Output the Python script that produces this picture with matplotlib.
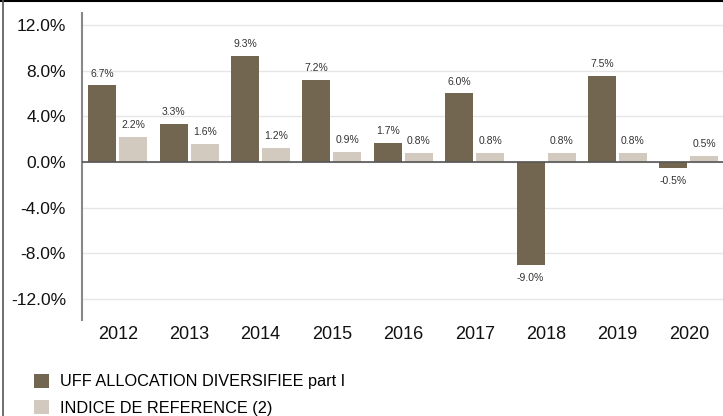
import matplotlib
matplotlib.use("Agg")
import matplotlib.pyplot as plt
import numpy as np
from matplotlib.lines import Line2D
from matplotlib.patches import Patch
from matplotlib.ticker import FuncFormatter, FixedLocator

plt.rcParams['font.family'] = ['Liberation Sans', 'DejaVu Sans']

years = ['2012', '2013', '2014', '2015', '2016', '2017', '2018', '2019', '2020']
fund = [6.7, 3.3, 9.3, 7.2, 1.7, 6.0, -9.0, 7.5, -0.5]
index = [2.2, 1.6, 1.2, 0.9, 0.8, 0.8, 0.8, 0.8, 0.5]
fund_name = 'UFF ALLOCATION DIVERSIFIEE part I'
index_name = 'INDICE DE REFERENCE (2)'
yticks = [-12, -8, -4, 0, 4, 8, 12]

c_fund = '#736651'
c_index = '#d2c9bf'

W, H = 723, 416
fig = plt.figure(figsize=(W / 100, H / 100), dpi=100)
ax_left, ax_right, ax_top, ax_bot = 82, 724.6, 13, 320
ax = fig.add_axes([ax_left / W, 1 - ax_bot / H, (ax_right - ax_left) / W, (ax_bot - ax_top) / H])

x = np.arange(len(years))
bw = 0.39
off = 0.217
b1 = ax.bar(x - off, fund, bw, color=c_fund, zorder=3)
b2 = ax.bar(x + off, index, bw, color=c_index, zorder=3)

for bars, vals in ((b1, fund), (b2, index)):
    for rect, v in zip(bars, vals):
        cx = rect.get_x() + rect.get_width() / 2
        if v >= 0:
            ax.annotate(f'{v:.1f}%', (cx, v), xytext=(0, 5), textcoords='offset points',
                        ha='center', va='bottom', fontsize=7.5, color='#333333')
        else:
            ax.annotate(f'{v:.1f}%', (cx, v), xytext=(0, -6), textcoords='offset points',
                        ha='center', va='top', fontsize=7.5, color='#333333')

ax.set_xlim(-0.5, len(years) - 0.5)
ax.set_ylim(-13.84, 13.05)
ax.yaxis.set_major_locator(FixedLocator(yticks))
ax.yaxis.set_major_formatter(FuncFormatter(lambda v, p: f'{v:.1f}%'))
ax.set_xticks(x)
ax.set_xticklabels(years)
ax.tick_params(axis='both', length=0, labelsize=12.5, colors='#111111')
ax.tick_params(axis='y', pad=11.5)
ax.tick_params(axis='x', pad=4.5, labelsize=13)

ax.grid(axis='y', color='#e6e6e6', lw=1, zorder=0)
ax.axhline(0, color='#555555', lw=1.2, zorder=4)
for s in ('top', 'right', 'bottom'):
    ax.spines[s].set_visible(False)
ax.spines['left'].set_color('#888888')
ax.spines['left'].set_linewidth(1.5)

# outer border lines (top and left)
fig.add_artist(Line2D([0, 1], [1 - 0.5 / H, 1 - 0.5 / H], transform=fig.transFigure, color='black', lw=1.5))
fig.add_artist(Line2D([2.5 / W, 2.5 / W], [0, 1], transform=fig.transFigure, color='#555555', lw=1.2))

handles = [Patch(facecolor=c_fund, edgecolor='none'), Patch(facecolor=c_index, edgecolor='none')]
fig.legend(handles, [fund_name, index_name], loc='upper left',
           bbox_to_anchor=(34 / W, 1 - 374 / H), frameon=False, fontsize=11.7,
           handlelength=0.92, handleheight=0.92, handletextpad=0.65,
           labelspacing=0.68, borderpad=0, borderaxespad=0)

fig.savefig('out.png', dpi=100)
